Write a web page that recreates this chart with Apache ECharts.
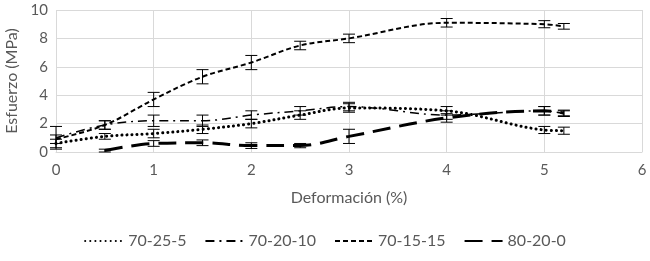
<!DOCTYPE html>
<html>
<head>
<meta charset="utf-8">
<script src="https://cdn.jsdelivr.net/npm/echarts@6/dist/echarts.min.js"></script>
<style>
  html, body { margin: 0; padding: 0; background: #fff; }
  #chart { width: 650px; height: 261px; }
</style>
</head>
<body>
<div id="chart"></div>
<script>
// strain (%) for every measured point
const strain = [0, 0.5, 1, 1.5, 2, 2.5, 3, 4, 5, 5.2]

const s70_25_5 = [0.6, 1.1, 1.3, 1.6, 2.0, 2.6, 3.1, 2.9, 1.55, 1.5]
const s70_20_10 = [1.0, 1.9, 2.2, 2.2, 2.6, 2.9, 3.2, 2.6, 2.9, 2.7]
const s70_15_15 = [0.9, 1.9, 3.7, 5.3, 6.3, 7.5, 8.0, 9.1, 9.0, 8.85]
const s80_20_0 = [null, 0.1, 0.6, 0.65, 0.45, 0.45, 1.1, 2.4, 2.9, 2.75]

// error bar half widths
const e70_25_5 = [0.3, 0.2, 0.3, 0.3, 0.3, 0.3, 0.3, 0.3, 0.25, 0.25]
const e70_20_10 = [0.8, 0.3, 0.4, 0.4, 0.3, 0.3, 0.3, 0.3, 0.3, 0.2]
const e70_15_15 = [0.3, 0.3, 0.5, 0.5, 0.5, 0.3, 0.3, 0.3, 0.25, 0.2]
const e80_20_0 = [0, 0.1, 0.2, 0.2, 0.2, 0.15, 0.5, 0.3, 0.3, 0.2]

const names = ['70-25-5', '70-20-10', '70-15-15', '80-20-0']

function pairs(vals) {
  return strain.map((x, i) => [x, vals[i]])
}

function errData(vals, errs) {
  const out = []
  strain.forEach((x, i) => {
    if (vals[i] != null && errs[i] > 0) {
      out.push([x, vals[i] - errs[i], vals[i] + errs[i]])
    }
  })
  return out
}

function renderErr(params, api) {
  const x = api.value(0)
  const lo = api.coord([x, api.value(1)])
  const hi = api.coord([x, api.value(2)])
  const half = 6
  const style = { stroke: '#000', lineWidth: 1 }
  return {
    type: 'group',
    children: [
      { type: 'line', shape: { x1: lo[0], y1: lo[1], x2: hi[0], y2: hi[1] }, style },
      { type: 'line', shape: { x1: lo[0] - half, y1: lo[1], x2: lo[0] + half, y2: lo[1] }, style },
      { type: 'line', shape: { x1: hi[0] - half, y1: hi[1], x2: hi[0] + half, y2: hi[1] }, style }
    ]
  }
}

const chart = echarts.init(document.getElementById('chart'))
const tickText = { color: '#595959', fontSize: 15, fontFamily: 'Lato' }
const nameText = { color: '#595959', fontSize: 16, fontFamily: 'Lato' }

const lineStyles = [
  { color: '#000', width: 3, type: [0.1, 5], cap: 'round' },
  { color: '#000', width: 1.5, type: [9, 5, 2, 5] },
  { color: '#000', width: 2, type: [5, 3] },
  { color: '#000', width: 3, type: [18, 9] }
]
const values = [s70_25_5, s70_20_10, s70_15_15, s80_20_0]
const errs = [e70_25_5, e70_20_10, e70_15_15, e80_20_0]

const series = []
names.forEach((n, i) => {
  series.push({
    name: n,
    type: 'line',
    smooth: 0.35,
    symbol: 'none',
    connectNulls: false,
    data: pairs(values[i]),
    lineStyle: lineStyles[i],
    itemStyle: { color: '#000' }
  })
})
errs.forEach((e, i) => {
  series.push({
    type: 'custom',
    renderItem: renderErr,
    data: errData(values[i], e),
    encode: { x: 0, y: [1, 2] },
    silent: true,
    z: 3
  })
})

chart.setOption({
  animation: false,
  backgroundColor: '#fff',
  grid: { left: 56, right: 8, top: 10, bottom: 109, containLabel: false, outerBoundsMode: 'none' },
  legend: {
    data: names,
    bottom: 7,
    left: 'center',
    itemWidth: 38,
    itemHeight: 8,
    itemGap: 18,
    itemStyle: { color: 'transparent', borderWidth: 0 },
    textStyle: nameText
  },
  xAxis: {
    type: 'value',
    min: 0,
    max: 6,
    interval: 1,
    name: 'Deformación (%)',
    nameLocation: 'middle',
    nameGap: 38,
    nameTextStyle: nameText,
    axisLine: { lineStyle: { color: '#d9d9d9' } },
    axisTick: { show: false },
    axisLabel: Object.assign({ margin: 11 }, tickText),
    splitLine: { lineStyle: { color: '#d9d9d9' } }
  },
  yAxis: {
    type: 'value',
    min: 0,
    max: 10,
    interval: 2,
    name: 'Esfuerzo (MPa)',
    nameLocation: 'middle',
    nameGap: 33,
    nameTextStyle: nameText,
    axisLine: { show: false },
    axisTick: { show: false },
    axisLabel: tickText,
    splitLine: { lineStyle: { color: '#d9d9d9' } }
  },
  series: series
})
</script>
</body>
</html>
